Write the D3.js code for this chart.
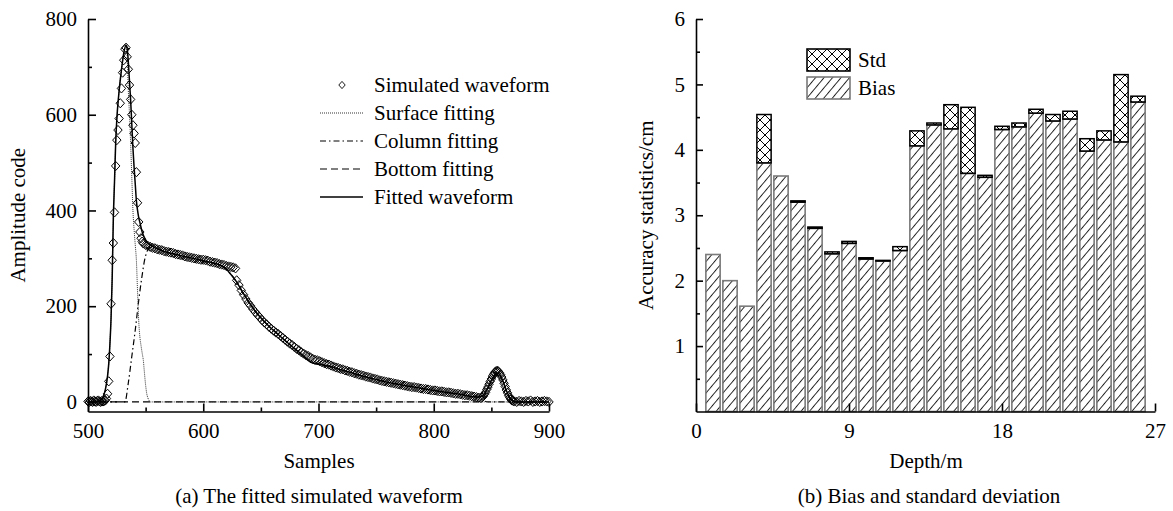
<!DOCTYPE html>
<html>
<head>
<meta charset="utf-8">
<script src="https://cdn.jsdelivr.net/npm/d3@7.9.0/dist/d3.min.js"></script>
<style>
html, body { margin: 0; padding: 0; background: #fff; }
svg { display: block; font-family: "Liberation Serif", "Times New Roman", serif; }
</style>
</head>
<body>
<svg id="chart" width="1173" height="511"></svg>
<script>
// ---------- data, panel (a): [sample, amplitude code]
const simulatedWaveform = [
  [500,1],[501,0],[502,2],[503,1],[504,0],[505,3],[506,1],[507,0],[508,2],[509,3],
  [510,1],[511,0],[512,2],[513,1],[514,2],[515,3],[516,7],[517,17],[518,43],[519,95],
  [520,205],[521,296],[522,332],[523,396],[524,493],[525,547],[526,568],[527,592],[528,624],[529,655],
  [530,688],[531,714],[532,737],[533,740],[534,721],[535,695],[536,662],[537,632],[538,600],[539,578],
  [540,561],[541,541],[542,480],[543,416],[544,376],[545,355],[546,342],[547,335],
  [548,331],[550,328],[552,326],[554,324],[556,322],[558,321],[560,319],[562,318],[564,317],[566,315],
  [568,314],[570,313],[572,312],[574,311],[576,309],[578,308],[580,307],[582,306],[584,304],[586,303],
  [588,302],[590,301],[592,300],[594,299],[596,298],[598,297],[600,297],[602,296],[604,295],[606,293],
  [608,292],[610,291],[612,290],[614,288],[616,287],[618,286],[620,284],[622,283],[624,282],[626,281],[628,279],
  [629,254],[631,244],[633,233],[635,224],[637,215],[639,207],[641,201],[643,194],[645,188],[647,182],
  [649,177],[651,171],[653,166],[655,162],[657,157],[659,153],[661,149],[663,145],[665,142],[667,138],
  [669,134],[671,130],[673,126],[675,122],[677,119],[679,115],[681,111],[683,108],[685,104],[687,101],
  [689,98],[691,96],[693,93],[695,90],[697,88],[699,87],[701,85],[703,83],[705,81],[707,79],
  [709,78],[711,76],[713,74],[715,72],[717,71],[719,69],[721,68],[723,66],[725,65],[727,63],
  [729,62],[731,60],[733,59],[735,57],[737,56],[739,55],[741,53],[743,52],[745,51],[747,49],
  [749,48],[751,47],[753,45],[755,44],[757,43],[759,42],[761,41],[763,40],[765,39],[767,38],
  [769,37],[771,36],[773,35],[775,34],[777,33],[779,32],[781,31],[783,31],[785,30],[787,29],
  [789,28],[791,27],[793,27],[795,26],[797,25],[799,24],[801,24],[803,23],[805,22],[807,22],
  [809,21],[811,20],[813,20],[815,19],[817,18],[819,17],[821,17],[823,16],[825,15],[827,14],
  [829,14],[831,13],[833,12],[835,11],[837,10],[839,9],[841,8],
  [842,10],[843,12],[844,16],[845,20],[846,26],[847,31],[848,37],[849,43],[850,48],[851,54],
  [852,58],[853,62],[854,64],[855,65],[856,64],[857,61],[858,57],[859,52],[860,46],[861,39],
  [862,32],[863,25],[864,19],[865,13],[866,9],[867,5],[868,3],[869,2],[870,1],
  [872,0],[874,2],[876,1],[878,0],[880,2],[882,1],[884,3],[886,0],[888,1],[890,2],
  [892,0],[894,1],[896,2],[898,1],[900,0]
];

const surfaceFitting = [
  [500,0],[510,2],[513,10],[515,25],[517,55],[518,80],[519,120],[520,175],[521,260],[522,385],
  [523,460],[524,540],[525,590],[527,650],[529,693],[531,728],[533,745],[534,720],[535,650],[536,600],
  [537,540],[538,470],[539,400],[540,360],[541,328],[542,295],[543,230],[544,170],[545,136],[546,118],
  [547,102],[548,87],[549,60],[550,35],[551,17],[552,8],[553,3],[554,0],[900,0]
];

const columnFitting = [
  [500,0],[532,0],[535,40],[538,95],[541,150],[544,212],[547,265],[549,295],[551,313],[553,322],
  [556,324],[560,320],[580,306],[600,295],[618,282],[622,272],[628,254],[635,226],[645,190],[655,163],
  [665,141],[675,120],[685,100],[694,82],[700,79],[707,76],[720,67],[740,53],[760,41],[780,32],
  [800,24],[820,17],[838,10],[841,6],[844,2],[847,0],[900,0]
];

const bottomFitting = [
  [500,0],[838,0],[842,5],[846,22],[850,44],[853,56],[855,60],[857,56],[860,42],[863,22],
  [866,7],[869,1],[872,0],[900,0]
];

const fittedWaveform = [
  [500,0],[508,0],[510,2],[513,10],[515,25],[517,55],[518,80],[519,120],[520,175],[521,260],
  [522,385],[523,460],[524,540],[525,590],[527,650],[529,693],[531,728],[533,745],[534,738],[535,710],
  [536,670],[537,630],[538,580],[539,530],[540,490],[541,455],[542,420],[543,400],[544,385],[545,375],
  [547,355],[549,343],[552,332],[556,325],[560,320],[580,306],[600,295],[618,282],[622,272],[628,254],
  [635,226],[645,190],[655,163],[665,141],[675,120],[685,100],[694,82],[700,79],[707,76],[720,67],
  [740,53],[760,41],[780,32],[800,24],[820,17],[838,10],[842,12],[846,25],[850,45],[853,57],
  [855,61],[857,58],[860,44],[863,24],[866,9],[869,2],[872,0],[900,0]
];

const sampleTicks = [500, 600, 700, 800, 900];
const sampleMinor = [550, 650, 750, 850];
const ampTicks = [0, 200, 400, 600, 800];
const ampMinor = [100, 300, 500, 700];
const legendA = ["Simulated waveform", "Surface fitting", "Column fitting", "Bottom fitting", "Fitted waveform"];

// ---------- data, panel (b)
const depths = [1,2,3,4,5,6,7,8,9,10,11,12,13,14,15,16,17,18,19,20,21,22,23,24,25,26];
const bias = [2.40,2.00,1.61,3.80,3.60,3.20,2.80,2.41,2.57,2.33,2.30,2.46,4.06,4.38,4.32,3.64,3.58,4.31,4.35,4.56,4.44,4.47,3.98,4.15,4.12,4.73];
const stdDev = [0,0,0,0.74,0,0.02,0.02,0.03,0.03,0.02,0.01,0.06,0.23,0.03,0.37,1.01,0.03,0.05,0.06,0.06,0.10,0.12,0.19,0.14,1.03,0.09];
const depthTicks = [0, 9, 18, 27];
const accTicks = [1, 2, 3, 4, 5, 6];
const accMinor = [0.5, 1.5, 2.5, 3.5, 4.5, 5.5];
const legendB = ["Std", "Bias"];

const FS = 21;
const svg = d3.select("#chart");

// hatch patterns
const defs = svg.append("defs");
const pBias = defs.append("pattern").attr("id", "hatchBias")
  .attr("patternUnits", "userSpaceOnUse").attr("width", 6.5).attr("height", 6.5)
  .attr("patternTransform", "rotate(40)");
pBias.append("line").attr("x1", 0.5).attr("y1", -1).attr("x2", 0.5).attr("y2", 8)
  .attr("stroke", "#111").attr("stroke-width", 0.9);

const pStd = defs.append("pattern").attr("id", "hatchStd")
  .attr("patternUnits", "userSpaceOnUse").attr("width", 10).attr("height", 10);
pStd.append("path").attr("d", "M0,0L10,10M10,0L0,10M-1,9L1,11M9,-1L11,1M9,11L11,9M-1,1L1,-1")
  .attr("stroke", "#000").attr("stroke-width", 1).attr("fill", "none");

function styleAxis(g) {
  g.attr("font-size", null).attr("font-family", null);
  g.selectAll("text").style("font-size", FS + "px").attr("fill", "#000");
  g.selectAll("line, path").attr("stroke", "#000").attr("stroke-width", 1.6);
}

// ================= panel (a)
const xA = d3.scaleLinear().domain([500, 900]).range([88, 549]);
const yA = d3.scaleLinear().domain([-20, 800]).range([411.5, 19]);

svg.append("g").attr("transform", `translate(0,${yA.range()[0]})`)
  .call(d3.axisBottom(xA).tickValues(sampleTicks).tickSizeInner(-8).tickSizeOuter(0).tickPadding(12).tickFormat(d3.format("d")))
  .call(styleAxis);
svg.append("g").attr("transform", `translate(0,${yA.range()[0]})`)
  .call(d3.axisBottom(xA).tickValues(sampleMinor).tickSize(-4).tickFormat(""))
  .call(g => g.select(".domain").remove()).call(styleAxis);

svg.append("g").attr("transform", `translate(${xA.range()[0]},0)`)
  .call(d3.axisLeft(yA).tickValues(ampTicks).tickSizeInner(-8).tickSizeOuter(0).tickPadding(11).tickFormat(d3.format("d")))
  .call(styleAxis);
svg.append("g").attr("transform", `translate(${xA.range()[0]},0)`)
  .call(d3.axisLeft(yA).tickValues(ampMinor).tickSize(-4).tickFormat(""))
  .call(g => g.select(".domain").remove()).call(styleAxis);

const lineA = d3.line().x(d => xA(d[0])).y(d => yA(d[1])).curve(d3.curveMonotoneX);

const plotA = svg.append("g");
plotA.append("path").datum(bottomFitting).attr("d", lineA)
  .attr("fill", "none").attr("stroke", "#000").attr("stroke-width", 1.2).attr("stroke-dasharray", "7,4");
plotA.append("path").datum(columnFitting).attr("d", lineA)
  .attr("fill", "none").attr("stroke", "#000").attr("stroke-width", 1.2).attr("stroke-dasharray", "6,3,1.5,3");
plotA.append("path").datum(surfaceFitting).attr("d", lineA)
  .attr("fill", "none").attr("stroke", "#333").attr("stroke-width", 1).attr("stroke-dasharray", "1,1");

const diamond = "M0,-4.6L4.2,0L0,4.6L-4.2,0Z";
plotA.append("g").selectAll("path").data(simulatedWaveform).join("path")
  .attr("d", diamond)
  .attr("transform", d => `translate(${xA(d[0])},${yA(d[1])})`)
  .attr("fill", "none").attr("stroke", "#000").attr("stroke-width", 1);

plotA.append("path").datum(fittedWaveform).attr("d", lineA)
  .attr("fill", "none").attr("stroke", "#000").attr("stroke-width", 1.5);

// legend (a)
const legA = svg.append("g").attr("transform", "translate(320,85)");
const dashes = [null, "1,1", "6,3,1.5,3", "7,4", null];
legendA.forEach((name, i) => {
  const row = legA.append("g").attr("transform", `translate(0,${i * 28})`);
  if (i === 0) {
    row.append("path").attr("d", "M0,-3.6L3.2,0L0,3.6L-3.2,0Z").attr("transform", "translate(22,0)")
      .attr("fill", "none").attr("stroke", "#000").attr("stroke-width", 0.9);
  } else {
    row.append("line").attr("x1", 0).attr("x2", 43).attr("y1", 0).attr("y2", 0)
      .attr("stroke", i === 1 ? "#333" : "#000")
      .attr("stroke-width", i === 4 ? 1.5 : 1.2)
      .attr("stroke-dasharray", dashes[i]);
  }
  row.append("text").attr("x", 54).attr("dy", "0.34em").style("font-size", FS + "px").text(name);
});

svg.append("text").attr("transform", `translate(25,${(yA.range()[0] + yA.range()[1]) / 2}) rotate(-90)`)
  .attr("text-anchor", "middle").style("font-size", FS + "px").text("Amplitude code");
svg.append("text").attr("x", (xA.range()[0] + xA.range()[1]) / 2 + 0.5).attr("y", 468)
  .attr("text-anchor", "middle").style("font-size", FS + "px").text("Samples");
svg.append("text").attr("x", 319).attr("y", 503)
  .attr("text-anchor", "middle").style("font-size", FS + "px").text("(a) The fitted simulated waveform");

// ================= panel (b)
const xB = d3.scaleLinear().domain([0, 27]).range([696, 1155]);
const yB = d3.scaleLinear().domain([0, 6]).range([411.5, 19]);
const barW = 0.84;

const plotB = svg.append("g");
depths.forEach((dep, i) => {
  const x0 = xB(dep - barW / 2), w = xB(barW) - xB(0);
  plotB.append("rect").attr("x", x0).attr("width", w)
    .attr("y", yB(bias[i])).attr("height", yB(0) - yB(bias[i]))
    .attr("fill", "url(#hatchBias)").attr("stroke", "#7a7a7a").attr("stroke-width", 1.6);
  if (stdDev[i] > 0) {
    const top = bias[i] + stdDev[i];
    plotB.append("rect").attr("x", x0).attr("width", w)
      .attr("y", yB(top)).attr("height", yB(bias[i]) - yB(top))
      .attr("fill", "url(#hatchStd)").attr("stroke", "#000").attr("stroke-width", 1.5);
  }
});

svg.append("g").attr("transform", `translate(0,${yB.range()[0]})`)
  .call(d3.axisBottom(xB).tickValues(depthTicks).tickSizeInner(-8).tickSizeOuter(0).tickPadding(12).tickFormat(d3.format("d")))
  .call(styleAxis);
svg.append("g").attr("transform", `translate(${xB.range()[0]},0)`)
  .call(d3.axisLeft(yB).tickValues(accTicks).tickSizeInner(-7).tickSizeOuter(0).tickPadding(11).tickFormat(d3.format("d")))
  .call(styleAxis);
svg.append("g").attr("transform", `translate(${xB.range()[0]},0)`)
  .call(d3.axisLeft(yB).tickValues(accMinor).tickSize(-4).tickFormat(""))
  .call(g => g.select(".domain").remove()).call(styleAxis);

// legend (b)
const legB = svg.append("g").attr("transform", "translate(807,49)");
legendB.forEach((name, i) => {
  const row = legB.append("g").attr("transform", `translate(0,${i * 28})`);
  row.append("rect").attr("width", 43).attr("height", 22)
    .attr("fill", i === 0 ? "url(#hatchStd)" : "url(#hatchBias)")
    .attr("stroke", i === 0 ? "#000" : "#7a7a7a").attr("stroke-width", 1.6);
  row.append("text").attr("x", 51).attr("y", 11).attr("dy", "0.34em").style("font-size", FS + "px").text(name);
});

svg.append("text").attr("transform", `translate(653,${(yB.range()[0] + yB.range()[1]) / 2}) rotate(-90)`)
  .attr("text-anchor", "middle").style("font-size", FS + "px").text("Accuracy statistics/cm");
svg.append("text").attr("x", 926).attr("y", 468)
  .attr("text-anchor", "middle").style("font-size", FS + "px").text("Depth/m");
svg.append("text").attr("x", 929).attr("y", 503)
  .attr("text-anchor", "middle").style("font-size", FS + "px").text("(b) Bias and standard deviation");
</script>
</body>
</html>
